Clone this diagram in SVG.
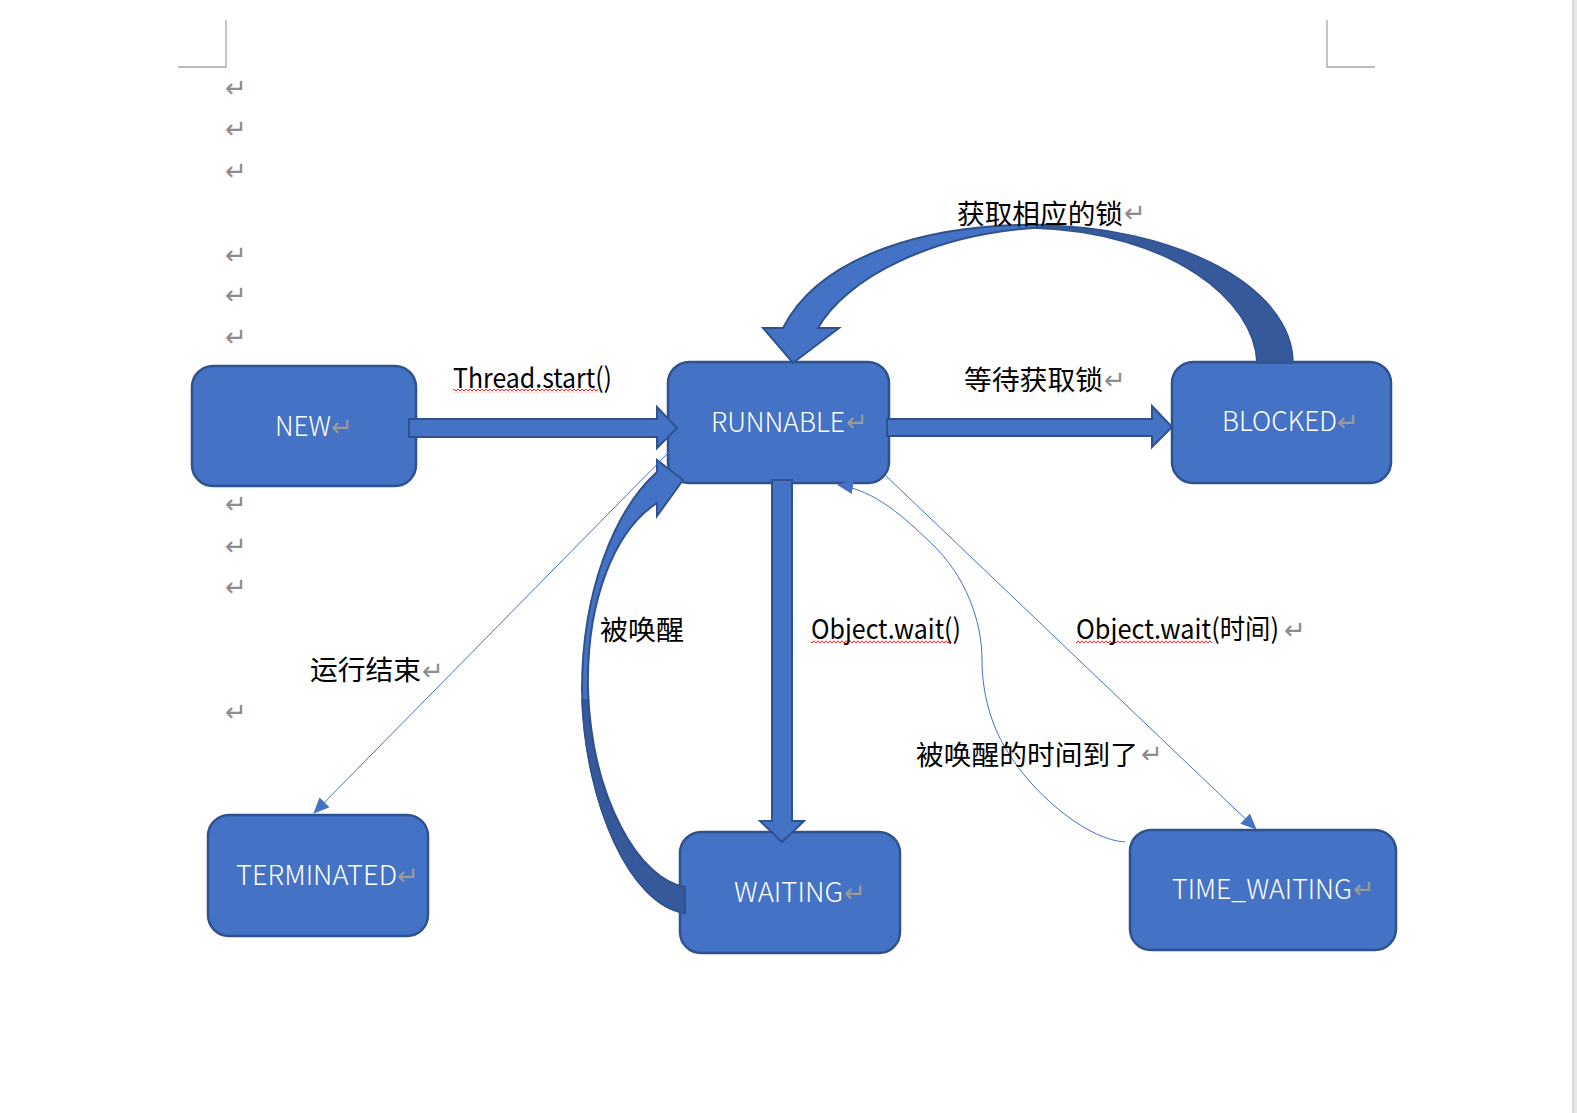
<svg xmlns="http://www.w3.org/2000/svg" width="1577" height="1113" viewBox="0 0 1577 1113">
<defs>
<style>
.node rect{fill:#4472C4;stroke:#2F528F;stroke-width:2.5}
.nl{font-family:"Noto Sans CJK SC","Noto Sans",sans-serif;font-size:27px;font-weight:300;fill:#FFFFFF}
.lbl{font-family:"Noto Sans CJK SC","Noto Sans",sans-serif;font-size:27.5px;fill:#000000}
.pm{font-family:"DejaVu Sans",sans-serif;font-size:26px;fill:#8C8C8C}
.pmn{font-family:"DejaVu Sans",sans-serif;font-size:26px;fill:#9A9A9A}
.blk{fill:#4472C4;stroke:#2F528F;stroke-width:2;stroke-linejoin:miter}
.dark{fill:#35599B;stroke:#2F528F;stroke-width:1.5}
.thin{fill:none;stroke:#4472C4;stroke-width:1}
.mark{fill:none;stroke:#A6A6A6;stroke-width:1.3}
</style>
<pattern id="sq" width="4" height="4" patternUnits="userSpaceOnUse">
<path d="M0,3 L2,0.8 L4,3" fill="none" stroke="#FF0000" stroke-width="0.9"/>
</pattern>
<marker id="ah" viewBox="0 0 16 14" refX="15" refY="7" markerWidth="16" markerHeight="14" markerUnits="userSpaceOnUse" orient="auto">
<path d="M0,0 L16,7 L0,14 Z" fill="#4472C4"/>
</marker>
</defs>
<rect width="1577" height="1113" fill="#FFFFFF"/>

<g id="page">
<path class="mark" d="M226,20 V67 H178"/>
<path class="mark" d="M1327,20 V67 H1375"/>
<rect x="1573" y="0" width="4" height="1113" fill="#E8E8E8"/>
<line x1="1573" y1="0" x2="1573" y2="1113" stroke="#CFCFCF" stroke-width="1.5"/>
</g>

<g id="margin-marks">
<text class="pm" x="225" y="97">↵</text>
<text class="pm" x="225" y="138">↵</text>
<text class="pm" x="225" y="179.5">↵</text>
<text class="pm" x="225" y="263.5">↵</text>
<text class="pm" x="225" y="304">↵</text>
<text class="pm" x="225" y="346">↵</text>
<text class="pm" x="225" y="513">↵</text>
<text class="pm" x="225" y="555">↵</text>
<text class="pm" x="225" y="596">↵</text>
<text class="pm" x="225" y="721">↵</text>
</g>

<g id="nodes">
<g id="node-new" class="node">
<rect x="192" y="366" width="224" height="120" rx="21"/>
<text class="nl" x="275" y="436" textLength="56" lengthAdjust="spacingAndGlyphs">NEW</text>
<text class="pmn" x="331" y="435.5">↵</text>
</g>
<g id="node-runnable" class="node">
<rect x="668" y="362" width="221" height="121" rx="21"/>
<text class="nl" x="711" y="432" textLength="134" lengthAdjust="spacingAndGlyphs">RUNNABLE</text>
<text class="pmn" x="846" y="431">↵</text>
</g>
<g id="node-blocked" class="node">
<rect x="1172" y="362" width="219" height="121" rx="21"/>
<text class="nl" x="1222" y="431" textLength="115" lengthAdjust="spacingAndGlyphs">BLOCKED</text>
<text class="pmn" x="1337" y="431">↵</text>
</g>
<g id="node-terminated" class="node">
<rect x="208" y="815" width="220" height="121" rx="21"/>
<text class="nl" x="236" y="885" textLength="161" lengthAdjust="spacingAndGlyphs">TERMINATED</text>
<text class="pmn" x="397" y="885">↵</text>
</g>
<g id="node-waiting" class="node">
<rect x="680" y="832" width="220" height="121" rx="21"/>
<text class="nl" x="734" y="902" textLength="109" lengthAdjust="spacingAndGlyphs">WAITING</text>
<text class="pmn" x="844" y="901.5">↵</text>
</g>
<g id="node-time-waiting" class="node">
<rect x="1130" y="830" width="266" height="120" rx="21"/>
<text class="nl" x="1172" y="899" textLength="180" lengthAdjust="spacingAndGlyphs">TIME_WAITING</text>
<text class="pmn" x="1353" y="898">↵</text>
</g>
</g>

<g id="connectors">
<polygon id="c-new-runnable" class="blk" points="409,419 657,419 657,407 677,428 657,448 657,437 409,437"/>
<polygon id="c-runnable-blocked" class="blk" points="887,419 1152,419 1152,406 1172,427 1152,447 1152,436 887,436"/>
<polygon id="c-runnable-waiting" class="blk" points="772,480 792,480 792,821 804,821 782,842 760,821 772,821"/>
<g id="c-blocked-runnable">
<path class="dark" d="M1020,225 L1033,225 C1176,225 1293,287 1293,363 L1257,363 C1255,300 1170,232 1033,228 L1020,228 Z"/>
<path class="blk" d="M1050,225 C930,222 820,255 783,328 L763,328 L793,363 L839,328 L818,328 C845,280 930,232 1050,227 Z"/>
</g>
<g id="c-waiting-runnable">
<path class="blk" d="M657,472 C615,510 582,590 582,690 C584,800 630,905 685,913 L685,887 C640,880 592,800 588,690 C586,600 615,530 657,503 L657,516 L683,480 L657,460 Z"/>
<path class="dark" d="M582,700 C586,805 630,905 685,913 L685,887 C640,880 594,805 588,700 Z"/>
</g>
<line id="c-runnable-terminated" class="thin" x1="671" y1="450" x2="314" y2="813" marker-end="url(#ah)"/>
<line id="c-runnable-timewaiting" class="thin" x1="884" y1="474" x2="1256" y2="829" marker-end="url(#ah)"/>
<path id="c-timewaiting-runnable" class="thin" d="M1125,842 C1090,840 1040,800 1013,760 C995,735 982,700 982,660 C982,620 965,575 931,543 C905,518 875,490 838,485" marker-end="url(#ah)"/>
</g>

<g id="labels">
<rect x="453" y="389" width="145" height="4" fill="url(#sq)"/>
<text class="lbl" x="453" y="388" textLength="159" lengthAdjust="spacingAndGlyphs">Thread.start()</text>

<text class="lbl" x="964" y="390" textLength="139" lengthAdjust="spacingAndGlyphs">等待获取锁</text>
<text class="pm" x="1104" y="389">↵</text>

<text class="lbl" x="957" y="224" textLength="166" lengthAdjust="spacingAndGlyphs">获取相应的锁</text>
<text class="pm" x="1124" y="222">↵</text>

<text class="lbl" x="600" y="640" textLength="84" lengthAdjust="spacingAndGlyphs">被唤醒</text>

<rect x="811" y="640" width="138" height="4" fill="url(#sq)"/>
<text class="lbl" x="811" y="639" textLength="150" lengthAdjust="spacingAndGlyphs">Object.wait()</text>

<rect x="1076" y="640" width="136" height="4" fill="url(#sq)"/>
<text class="lbl" x="1076" y="639"><tspan textLength="203" lengthAdjust="spacingAndGlyphs">Object.wait(时间)</tspan><tspan class="pm" x="1284">↵</tspan></text>

<text class="lbl" x="310" y="680" textLength="111" lengthAdjust="spacingAndGlyphs">运行结束</text>
<text class="pm" x="422" y="680">↵</text>

<text class="lbl" x="916" y="765" textLength="222" lengthAdjust="spacingAndGlyphs">被唤醒的时间到了</text>
<text class="pm" x="1141" y="763">↵</text>
</g>
</svg>
